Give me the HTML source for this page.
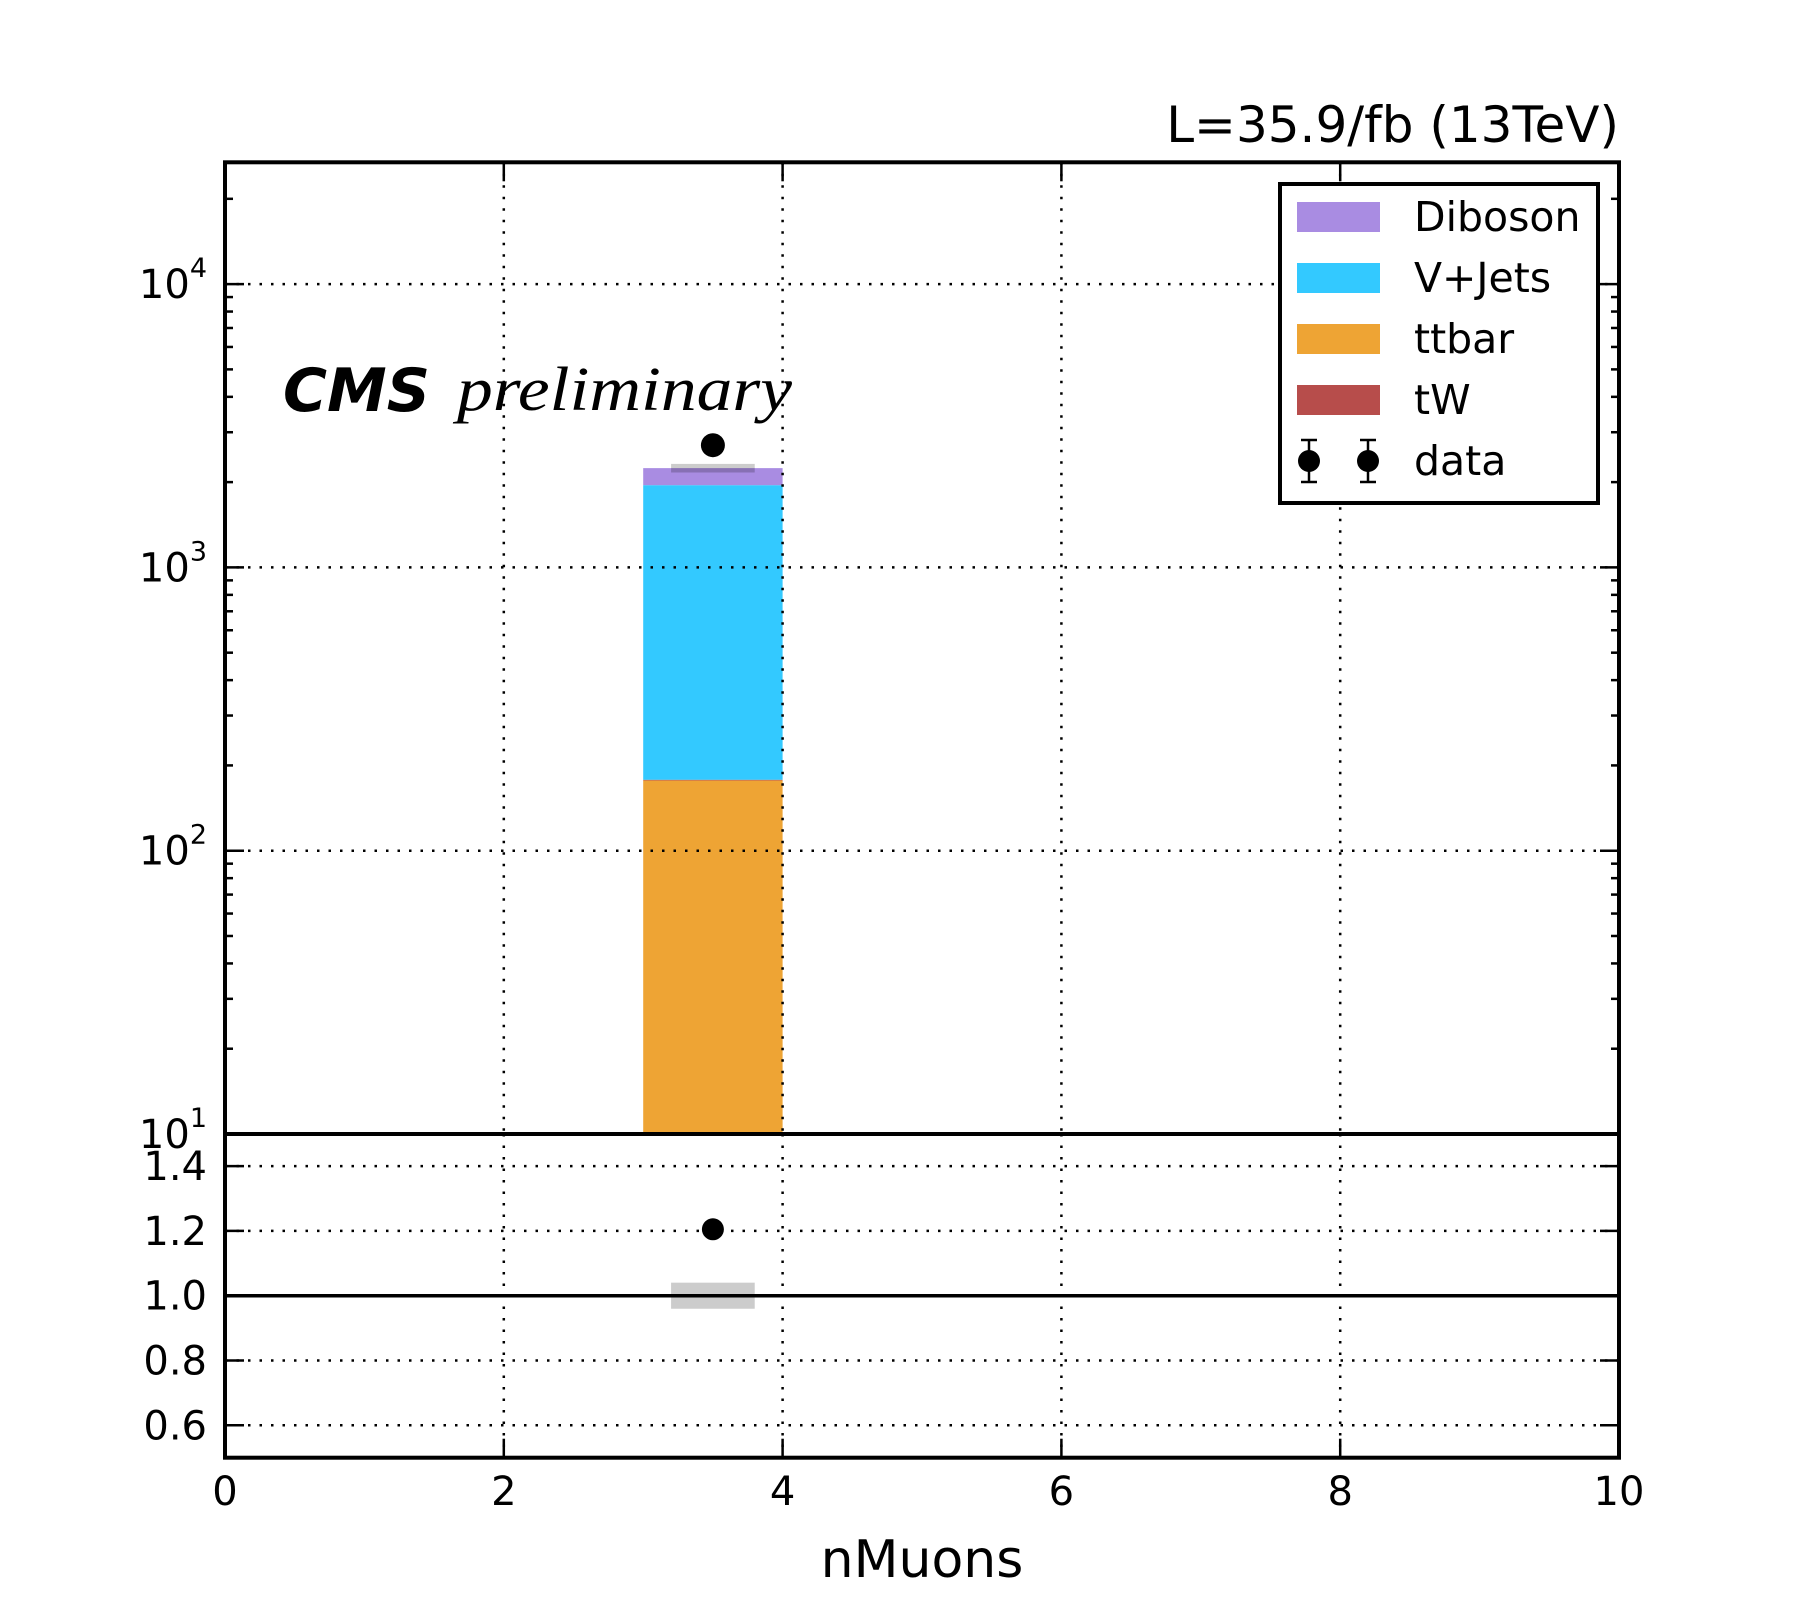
<!DOCTYPE html>
<html><head><meta charset="utf-8"><style>
html,body{margin:0;padding:0;background:#fff;}
svg{display:block;font-family:"DejaVu Sans","Liberation Sans",sans-serif;}
</style></head><body>
<svg id="chart" width="1800" height="1620" viewBox="0 0 1800 1620" xmlns="http://www.w3.org/2000/svg">
<g id="main"></g>
<g id="ratio"></g>
<text x="1619" y="142" font-size="50" text-anchor="end">L=35.9/fb (13TeV)</text>
<text x="283" y="411" font-size="60" font-weight="bold" font-style="italic">CMS</text>
<text x="457" y="410" font-size="62" font-style="italic" font-family="'Liberation Serif',serif" textLength="335" lengthAdjust="spacingAndGlyphs">preliminary</text>
<text x="922" y="1577" font-size="52" text-anchor="middle">nMuons</text>
<g id="legend"></g>
</svg>
<script>
const binLow = [3];
const binHigh = [4];
const ttbarVals = [177];
const vjetsVals = [1773];
const dibosonVals = [290];
const twVals = [1];
const dataVals = [2700];
const dataErr = [52];
const mcErrFrac = [0.035];
const ratioVals = [1.205];
const ratioErr = [0.03];
const xTicks = [0,2,4,6,8,10];
const yDecades = [1,2,3,4];
const ratioTicks = [0.6,0.8,1.0,1.2,1.4];

const NS='http://www.w3.org/2000/svg';
const L=225,R=1619,T=162.3,MB=1134,RB=1457.7;
const x=v=>L+(R-L)*v/10;
const yLog=v=>MB-(Math.log10(v)-1)*283.3;
const yR=v=>1457.7-(v-0.5)*324;
function mk(p,tag,a){const e=document.createElementNS(NS,tag);for(const k in a)e.setAttribute(k,a[k]);p.appendChild(e);return e;}
const main=document.getElementById('main'),ratio=document.getElementById('ratio'),leg=document.getElementById('legend');

for(let i=0;i<binLow.length;i++){
  const x0=x(binLow[i]),x1=x(binHigh[i]);
  const layers=[[ttbarVals[i],'#eea434','bar-ttbar'],[twVals[i],'#b74d4b','bar-tw'],[vjetsVals[i],'#33c9ff','bar-vjets'],[dibosonVals[i],'#a98ce2','bar-diboson']];
  let cum=0;
  for(const [v,c,n] of layers){
    const lo=cum; cum+=v;
    const yTop=yLog(cum), yBot=lo>10?yLog(lo):MB;
    const r=mk(main,'rect',{x:x0,y:yTop,width:x1-x0,height:Math.max(0,yBot-yTop),fill:c});
    
    
  }
  const cx0=x(binLow[i]+0.2),cx1=x(binHigh[i]-0.2);
  const b=mk(main,'rect',{x:cx0,y:yLog(cum*(1+mcErrFrac[i])),width:cx1-cx0,height:yLog(cum*(1-mcErrFrac[i]))-yLog(cum*(1+mcErrFrac[i])),fill:'#000','fill-opacity':0.2});
  
  
  const rb=mk(ratio,'rect',{x:cx0,y:yR(1+mcErrFrac[i]*1.15),width:cx1-cx0,height:yR(1-mcErrFrac[i]*1.15)-yR(1+mcErrFrac[i]*1.15),fill:'#cccccc'});
  
  
}
const gs={stroke:'#000','stroke-width':2.5,'stroke-dasharray':'2.5,9'};
for(const t of xTicks.slice(1,-1)){
  const g1=mk(main,'line',Object.assign({x1:x(t),x2:x(t),y1:T,y2:MB},gs));
  
  
  const g2=mk(ratio,'line',Object.assign({x1:x(t),x2:x(t),y1:MB,y2:RB},gs));
  
  
}
for(const d of yDecades){
  const y=yLog(Math.pow(10,d));
  if(d>1){const g=mk(main,'line',Object.assign({x1:L,x2:R,y1:y,y2:y},gs));
  
  }
  const t=mk(main,'text',{x:190,y:y+14,'font-size':40,'text-anchor':'end'});
  t.textContent='10';
  const s=mk(t,'tspan',{dy:-21,'font-size':27});s.textContent=String(d);
  t.setAttribute('x',207);
  
  
  mk(main,'line',{x1:L,x2:L+19,y1:y,y2:y,stroke:'#000','stroke-width':2.5});
  mk(main,'line',{x1:R,x2:R-19,y1:y,y2:y,stroke:'#000','stroke-width':2.5});
}
for(let d=1;d<=4;d++)for(let m=2;m<=9;m++){
  const y=yLog(m*Math.pow(10,d)); if(y<T)continue;
  mk(main,'line',{x1:L,x2:L+8,y1:y,y2:y,stroke:'#000','stroke-width':2.5});
  mk(main,'line',{x1:R,x2:R-8,y1:y,y2:y,stroke:'#000','stroke-width':2.5});
}
for(const r of ratioTicks){
  const y=yR(r);
  if(r!==1.0){const g=mk(ratio,'line',Object.assign({x1:L,x2:R,y1:y,y2:y},gs));
  
  }
  const t=mk(ratio,'text',{x:207,y:y+14,'font-size':40,'text-anchor':'end'});
  t.textContent=r.toFixed(1);
  
  
  mk(ratio,'line',{x1:L,x2:L+19,y1:y,y2:y,stroke:'#000','stroke-width':2.5});
  mk(ratio,'line',{x1:R,x2:R-19,y1:y,y2:y,stroke:'#000','stroke-width':2.5});
}
const one=mk(ratio,'line',{x1:L,x2:R,y1:yR(1),y2:yR(1),stroke:'#000','stroke-width':3.5});


for(const t of xTicks){
  mk(ratio,'line',{x1:x(t),x2:x(t),y1:RB,y2:RB-19,stroke:'#000','stroke-width':2.5});
  mk(main,'line',{x1:x(t),x2:x(t),y1:T,y2:T+19,stroke:'#000','stroke-width':2.5});
  const tx=mk(ratio,'text',{x:x(t),y:1505,'font-size':40,'text-anchor':'middle'});
  tx.textContent=String(t);
  
  
}
for(let i=0;i<binLow.length;i++){
  const cx=x((binLow[i]+binHigh[i])/2);
  mk(main,'line',{x1:cx,x2:cx,y1:yLog(dataVals[i]+dataErr[i]),y2:yLog(dataVals[i]-dataErr[i]),stroke:'#000','stroke-width':2});
  const p=mk(main,'circle',{cx:cx,cy:yLog(dataVals[i]),r:12,fill:'#000'});
  
  
  mk(ratio,'line',{x1:cx,x2:cx,y1:yR(ratioVals[i]+ratioErr[i]),y2:yR(ratioVals[i]-ratioErr[i]),stroke:'#000','stroke-width':2});
  const q=mk(ratio,'circle',{cx:cx,cy:yR(ratioVals[i]),r:11,fill:'#000'});
  
  
}
const f1=mk(main,'rect',{x:L,y:T,width:R-L,height:MB-T,fill:'none',stroke:'#000','stroke-width':4});


const f2=mk(ratio,'rect',{x:L,y:MB,width:R-L,height:RB-MB,fill:'none',stroke:'#000','stroke-width':4});


const lb=mk(leg,'rect',{x:1280,y:184,width:318,height:319,fill:'#fff',stroke:'#000','stroke-width':4});


const entries=[['Diboson','#a98ce2'],['V+Jets','#33c9ff'],['ttbar','#eea434'],['tW','#b74d4b']];
const rows=[217,278,339,400,461];
entries.forEach((e,i)=>{
  const r=mk(leg,'rect',{x:1297,y:rows[i]-15,width:83,height:30,fill:e[1]});
  
  
  const t=mk(leg,'text',{x:1414,y:rows[i]+14,'font-size':41});t.textContent=e[0];
  
  
});
for(const cx of [1309,1368]){
  mk(leg,'line',{x1:cx,x2:cx,y1:440,y2:482,stroke:'#000','stroke-width':2.5});
  mk(leg,'line',{x1:cx-8,x2:cx+8,y1:440,y2:440,stroke:'#000','stroke-width':2.5});
  mk(leg,'line',{x1:cx-8,x2:cx+8,y1:482,y2:482,stroke:'#000','stroke-width':2.5});
  mk(leg,'circle',{cx:cx,cy:461,r:11,fill:'#000'});
}
const dt=mk(leg,'text',{x:1414,y:475,'font-size':41});dt.textContent='data';


</script>
</body></html>
